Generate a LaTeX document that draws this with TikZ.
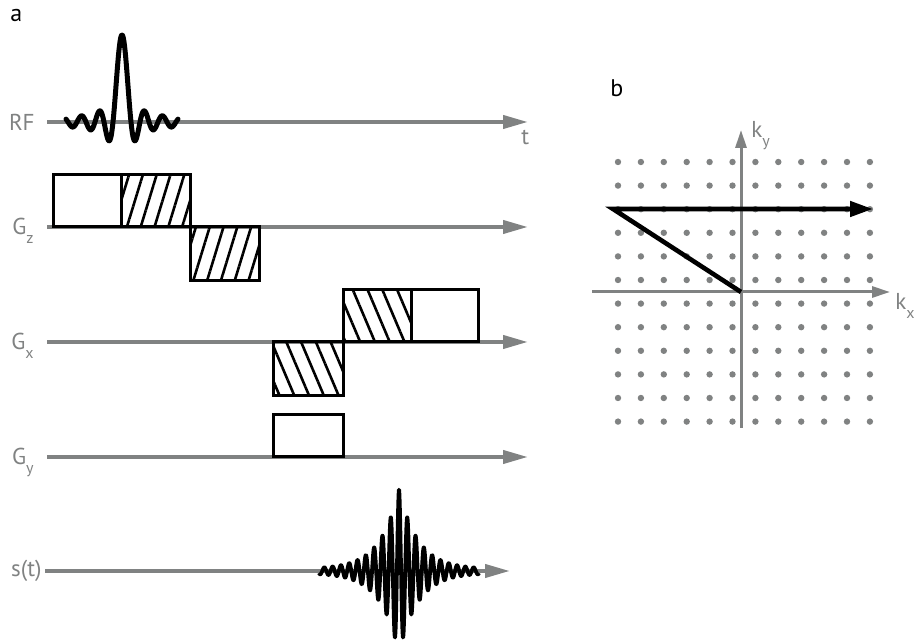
\documentclass[tikz,border=0pt]{standalone}
\usepackage{fontspec}
\setmainfont{PT Sans}
\usetikzlibrary{arrows.meta, positioning, patterns.meta}
\definecolor{axisgray}{RGB}{128,130,130}
\newcommand{\lowsub}[1]{\raisebox{-4.2pt}{\fontsize{8}{8}\selectfont #1}}

\begin{document}
\begin{tikzpicture}[
        x=0.5pt, y=0.5pt,
        lbl/.style={
            inner sep=0pt,
            text=axisgray,
            font=\fontsize{11.5}{13}\selectfont,
            anchor=base east
        },
        panel/.style={
            inner sep=0pt,
            font=\fontsize{12}{14}\selectfont,
            anchor=base west
        },
        timeaxis/.style={
            draw=axisgray,
            line width=2pt,
            -{Triangle[length=12.5pt, width=6.5pt]}
        },
        kaxis/.style={
            draw=axisgray,
            line width=1.5pt,
            -{Triangle[length=9pt, width=5.5pt]}
        },
        plainlobe/.style={line width=1.5pt, draw=black, fill=white},
        upslant/.style={
            line width=1.5pt, draw=black,
            pattern={Lines[angle=73, distance=6.6pt, line width=1.3pt]}
        },
        downslant/.style={
            line width=1.5pt, draw=black,
            pattern={Lines[angle=113, distance=6.8pt, line width=1.3pt]}
        },
        pulse/.style={line width=2.5pt, line cap=round, line join=round},
        echo/.style={line width=1.9pt, line join=round},
        traj/.style={line width=2.3pt, -{Triangle[length=11.5pt, width=7.5pt]}}
    ]
        \useasboundingbox (0,0) rectangle (915,642);

        \node[panel] (a) at (10,620) {a};
        \node[panel] (b) at (610,545) {b};

        \coordinate (rfA) at (47,520);  \coordinate (rfB) at (528,520);
        \coordinate (gzA) at (47,415);  \coordinate (gzB) at (528,415);
        \coordinate (gxA) at (47,300);  \coordinate (gxB) at (528,300);
        \coordinate (gyA) at (47,185);  \coordinate (gyB) at (528,185);
        \coordinate (stA) at (45,71);   \coordinate (stB) at (510,71);

        \node[lbl] (rf) at (35,511) {RF};
        \node[lbl] (gz) at (34,407) {G\lowsub{z}};
        \node[lbl] (gx) at (34,292) {G\lowsub{x}};
        \node[lbl] (gy) at (34,177) {G\lowsub{y}};
        \node[lbl] (st) at (42,65) {s(t)};
        \node[lbl, anchor=base west] (t) at (521,497) {t};

        \draw[timeaxis] (rfA) -- (rfB);
        \draw[timeaxis] (gzA) -- (gzB);
        \draw[timeaxis] (gxA) -- (gxB);
        \draw[timeaxis] (gyA) -- (gyB);
        \draw[timeaxis] (stA) -- (stB);

        \draw[pulse] plot[domain=-56:56, samples=300]
            ({122+\x}, {520+87*sin(\x*20)/(\x*pi/9)});

        \draw[plainlobe] (53,415) rectangle (121,467);
        \draw[upslant] (121,415) rectangle (190,467);
        \draw[upslant] (190,361) rectangle (259,415);

        \draw[downslant] (273,246) rectangle (343,300);
        \draw[downslant] (343,300) rectangle (411,352);
        \draw[plainlobe] (411,300) rectangle (478,352);

        \draw[plainlobe] (273,185) rectangle (343,227);

        \draw[echo] plot[domain=-80:80, samples=700]
            ({399+\x}, {71+(80*exp(-abs(\x)/19)+2)*cos(\x*43.37)});

        \foreach \i in {0,...,11}
            \foreach \j in {0,...,11}
                \fill[axisgray] ({618+22.9*\i},{480-23.6*\j}) circle (1.6pt);

        \coordinate (kxA) at (592,350);  \coordinate (kxB) at (890,350);
        \coordinate (kyA) at (741,214);  \coordinate (kyB) at (741,512);
        \draw[kaxis] (kxA) -- (kxB);
        \draw[kaxis] (kyA) -- (kyB);
        \node[lbl, anchor=base west] (kx) at (895,332) {k\lowsub{x}};
        \node[lbl, anchor=base west] (ky) at (751,504) {k\lowsub{y}};

        \coordinate (k0) at (741,350);
        \coordinate (k1) at (613,433);
        \coordinate (k2) at (873,433);
        \draw[traj] (k0) -- (k1) -- (k2);
    \end{tikzpicture}
\end{document}
